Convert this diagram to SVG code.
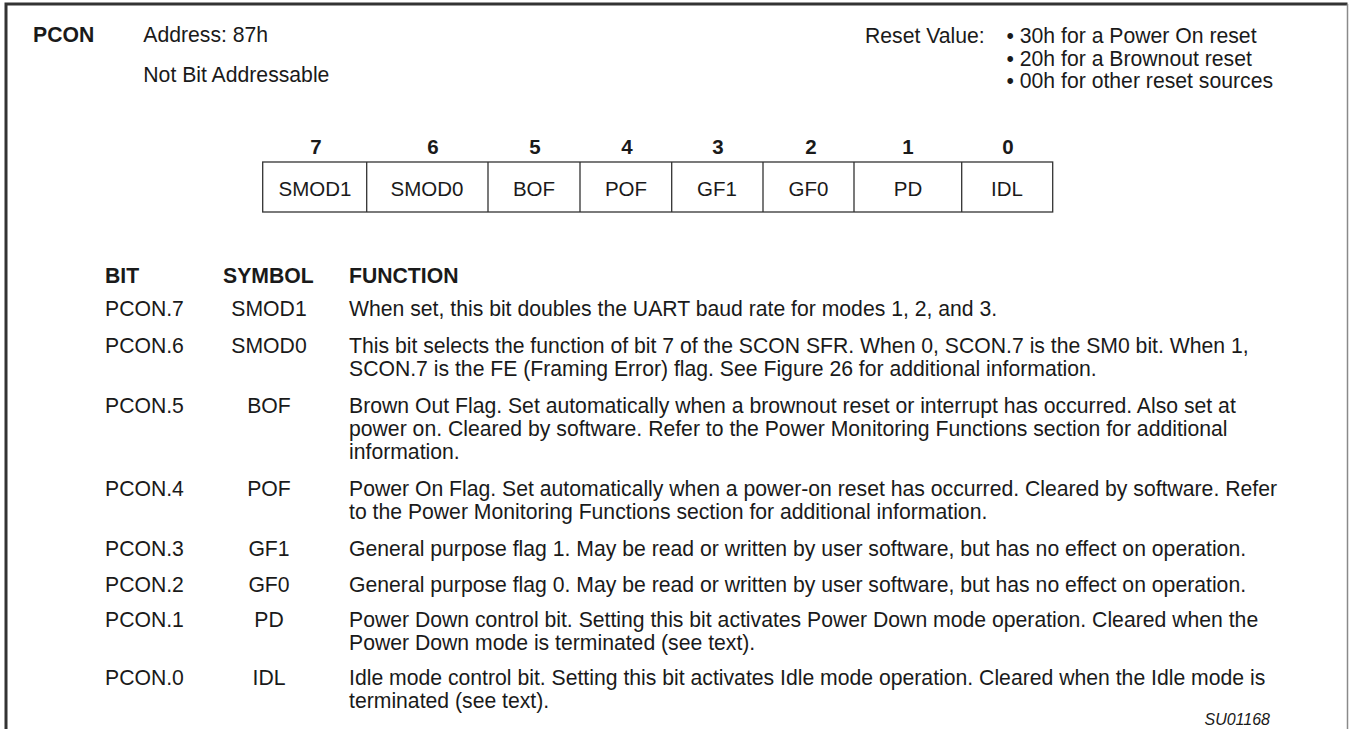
<svg xmlns="http://www.w3.org/2000/svg" width="1349" height="729" viewBox="0 0 1349 729">
<style>
text{font-family:"Liberation Sans",Arial,sans-serif;font-size:21.2px;fill:#1a1a1a}
.b{font-weight:bold}
.c{text-anchor:middle}
.n{font-weight:bold;font-size:20.5px;text-anchor:middle}
.r{font-size:20.5px;text-anchor:middle}
.i{font-style:italic;font-size:16px}
.cell{fill:#fff;stroke:#333;stroke-width:1.3}
</style>
<rect width="1349" height="729" fill="#fff"/>
<g id="frame">
<path d="M6,729 V4 H1347.5" fill="none" stroke="#333" stroke-width="3"/>
<path d="M1347.5,4 V729" fill="none" stroke="#8a8a8a" stroke-width="1.5"/>
</g>
<g id="header">
<text x="33" y="42" class="b">PCON</text>
<text x="143.3" y="42">Address: 87h</text>
<text x="143.3" y="82">Not Bit Addressable</text>
<text x="865" y="43">Reset Value:</text>
<text x="1006.5" y="43">• 30h for a Power On reset</text>
<text x="1006.5" y="65.5">• 20h for a Brownout reset</text>
<text x="1006.5" y="87.5">• 00h for other reset sources</text>
</g>
<g id="register">
<rect class="cell" x="262.7" y="162" width="790" height="50"/>
<path d="M366.7,162V212M488,162V212M580,162V212M671.7,162V212M763,162V212M854,162V212M961.7,162V212" stroke="#333" stroke-width="1.3"/>
<text x="316" y="153.5" class="n">7</text>
<text x="433" y="153.5" class="n">6</text>
<text x="535" y="153.5" class="n">5</text>
<text x="627" y="153.5" class="n">4</text>
<text x="718" y="153.5" class="n">3</text>
<text x="811" y="153.5" class="n">2</text>
<text x="908" y="153.5" class="n">1</text>
<text x="1008" y="153.5" class="n">0</text>
<text x="315" y="196" class="r">SMOD1</text>
<text x="427" y="196" class="r">SMOD0</text>
<text x="534" y="196" class="r">BOF</text>
<text x="626" y="196" class="r">POF</text>
<text x="717" y="196" class="r">GF1</text>
<text x="808.5" y="196" class="r">GF0</text>
<text x="908" y="196" class="r">PD</text>
<text x="1007" y="196" class="r">IDL</text>
</g>
<g id="table">
<text x="105" y="283" class="b">BIT</text>
<text x="223" y="283" class="b">SYMBOL</text>
<text x="349" y="283" class="b">FUNCTION</text>

<text x="105" y="316">PCON.7</text>
<text x="269" y="316" class="c">SMOD1</text>
<text x="349" y="316">When set, this bit doubles the UART baud rate for modes 1, 2, and 3.</text>

<text x="105" y="353">PCON.6</text>
<text x="269" y="353" class="c">SMOD0</text>
<text x="349" y="353">This bit selects the function of bit 7 of the SCON SFR. When 0, SCON.7 is the SM0 bit. When 1,</text>
<text x="349" y="376">SCON.7 is the FE (Framing Error) flag. See Figure 26 for additional information.</text>

<text x="105" y="413">PCON.5</text>
<text x="269" y="413" class="c">BOF</text>
<text x="349" y="413">Brown Out Flag. Set automatically when a brownout reset or interrupt has occurred. Also set at</text>
<text x="349" y="436">power on. Cleared by software. Refer to the Power Monitoring Functions section for additional</text>
<text x="349" y="459">information.</text>

<text x="105" y="496">PCON.4</text>
<text x="269" y="496" class="c">POF</text>
<text x="349" y="496">Power On Flag. Set automatically when a power-on reset has occurred. Cleared by software. Refer</text>
<text x="349" y="519">to the Power Monitoring Functions section for additional information.</text>

<text x="105" y="556">PCON.3</text>
<text x="269" y="556" class="c">GF1</text>
<text x="349" y="556">General purpose flag 1. May be read or written by user software, but has no effect on operation.</text>

<text x="105" y="592">PCON.2</text>
<text x="269" y="592" class="c">GF0</text>
<text x="349" y="592">General purpose flag 0. May be read or written by user software, but has no effect on operation.</text>

<text x="105" y="627">PCON.1</text>
<text x="269" y="627" class="c">PD</text>
<text x="349" y="627">Power Down control bit. Setting this bit activates Power Down mode operation. Cleared when the</text>
<text x="349" y="650">Power Down mode is terminated (see text).</text>

<text x="105" y="685">PCON.0</text>
<text x="269" y="685" class="c">IDL</text>
<text x="349" y="685">Idle mode control bit. Setting this bit activates Idle mode operation. Cleared when the Idle mode is</text>
<text x="349" y="708">terminated (see text).</text>

<text x="1270" y="725" class="i" text-anchor="end">SU01168</text>
</g>
</svg>
